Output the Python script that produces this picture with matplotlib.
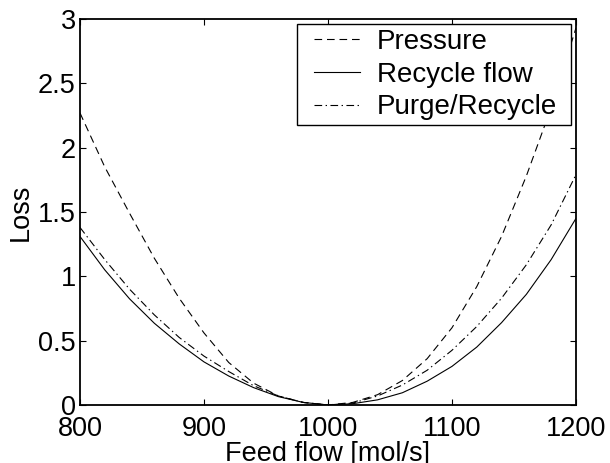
import matplotlib
matplotlib.use("Agg")
import matplotlib.pyplot as plt
from matplotlib.legend_handler import HandlerLine2D

# feed flow [mol/s] and loss values
feed = [800, 820, 840, 860, 880, 900, 920, 940, 960, 980, 1000,
        1020, 1040, 1060, 1080, 1100, 1120, 1140, 1160, 1180, 1200]
pressure = [2.27, 1.85, 1.49, 1.14, 0.83, 0.56, 0.33, 0.17, 0.07, 0.02, 0.0,
            0.02, 0.08, 0.19, 0.36, 0.60, 0.92, 1.31, 1.78, 2.31, 2.93]
recycle = [1.31, 1.05, 0.825, 0.635, 0.475, 0.335, 0.225, 0.135, 0.065, 0.02, 0.0,
           0.01, 0.04, 0.095, 0.185, 0.30, 0.45, 0.64, 0.86, 1.13, 1.45]
purge = [1.38, 1.13, 0.90, 0.70, 0.525, 0.38, 0.26, 0.15, 0.07, 0.02, 0.0,
         0.015, 0.07, 0.155, 0.27, 0.425, 0.61, 0.83, 1.09, 1.40, 1.79]

xticks = [800, 900, 1000, 1100, 1200]
yticks = [0, 0.5, 1, 1.5, 2, 2.5, 3]
yticklabels = ['0', '0.5', '1', '1.5', '2', '2.5', '3']

plt.rcParams['font.family'] = ['Liberation Sans', 'DejaVu Sans']
plt.rcParams['lines.scale_dashes'] = False

fig = plt.figure(figsize=(6.1, 4.63), dpi=100)
ax = fig.add_axes([0.1311, 0.1253, 0.8131, 0.8337])

lw = 0.8
ax.plot(feed, pressure, color='black', lw=lw, dashes=(5.5, 3.5), label='Pressure')
ax.plot(feed, recycle, color='black', lw=lw, label='Recycle flow')
ax.plot(feed, purge, color='black', lw=lw, dashes=(5.5, 2.5, 1.0, 2.5), label='Purge/Recycle')

ax.set_xlim(800, 1200)
ax.set_ylim(0, 3)
ax.set_xticks(xticks)
ax.set_xticklabels([str(t) for t in xticks])
ax.set_yticks(yticks)
ax.set_yticklabels(yticklabels)

for s in ax.spines.values():
    s.set_linewidth(1.3)
ax.tick_params(direction='in', top=True, right=True, length=4, width=0.8,
               labelsize=19.5)
ax.tick_params(axis='x', pad=8)
ax.tick_params(axis='y', pad=3)

ax.set_xlabel('Feed flow [mol/s]', fontsize=19.5, labelpad=-1)
ax.set_ylabel('Loss', fontsize=19.5, labelpad=3)

h = HandlerLine2D(xpad=0.42)
leg = ax.legend(loc='upper right', bbox_to_anchor=(0.4375, 0.0, 0.5525, 0.987),
                mode='expand', fontsize=20, frameon=True, fancybox=False,
                borderpad=0.18, labelspacing=0.24, handlelength=2.1,
                handletextpad=0.61, borderaxespad=0.0, framealpha=1,
                handler_map={l: h for l in ax.get_lines()})
leg.get_frame().set_edgecolor('black')
leg.get_frame().set_linewidth(1.0)

fig.savefig('out.png', dpi=100)
